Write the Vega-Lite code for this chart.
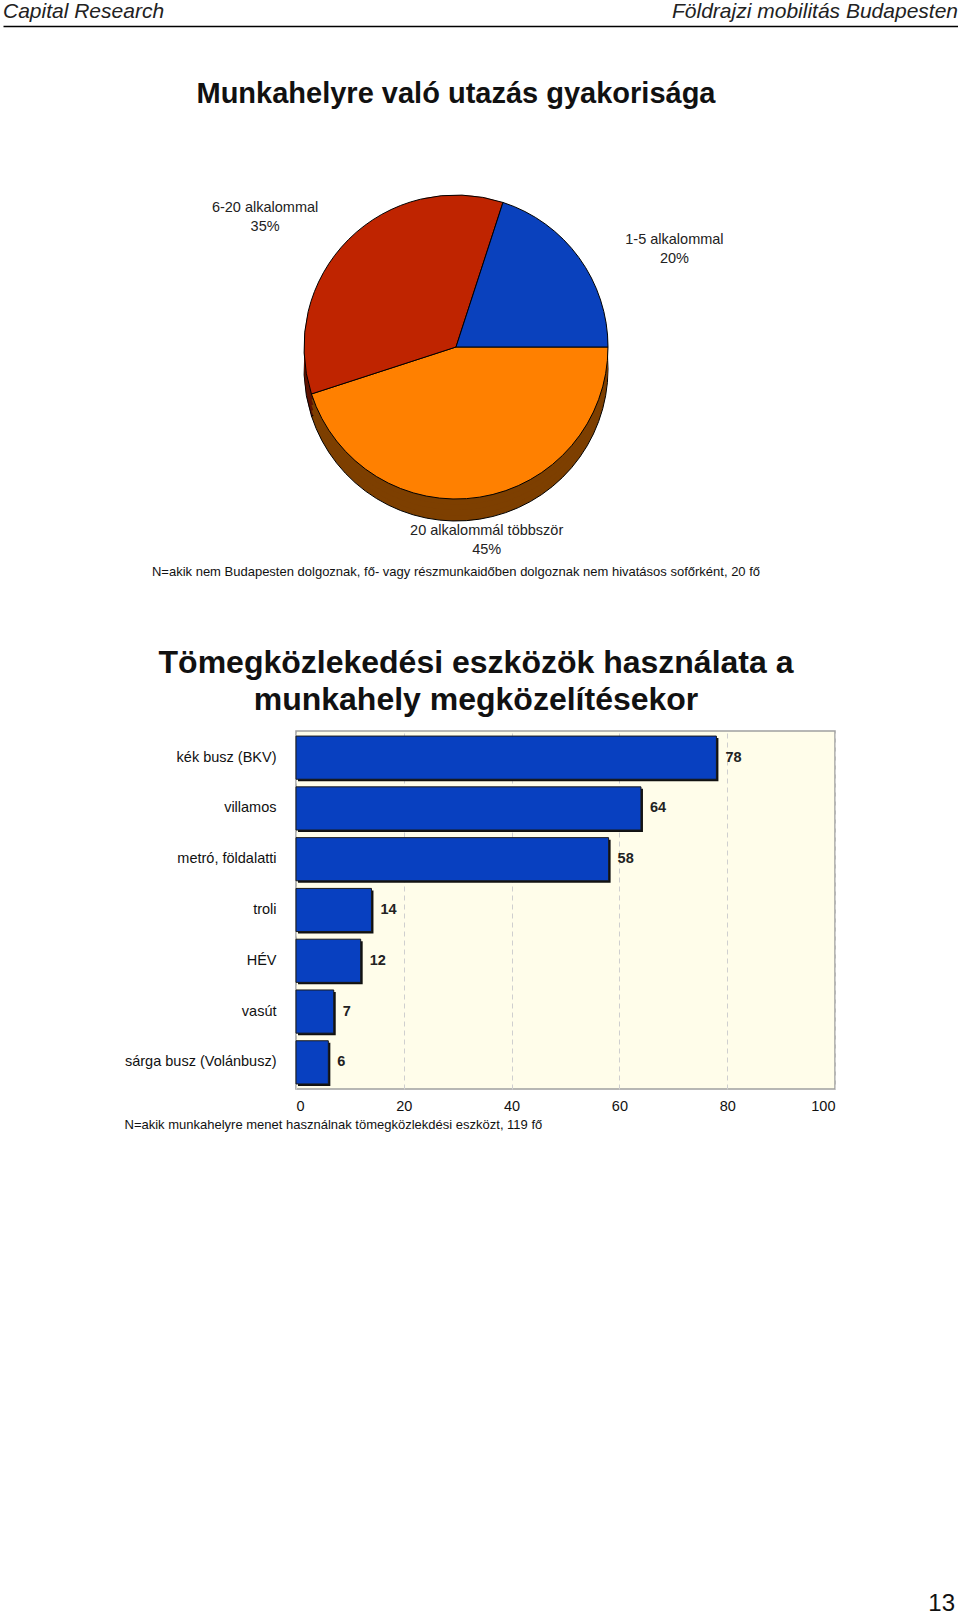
{
  "$schema": "https://vega.github.io/schema/vega-lite/v6.json",
  "background": "white",
  "padding": {"left": 3, "top": 0, "right": 0, "bottom": 0},
  "spacing": 0,
  "bounds": "flush",
  "config": {
    "view": {"stroke": null},
    "font": "Liberation Sans"
  },
  "vconcat": [
    {
      "width": 955,
      "height": 25,
      "data": {
        "values": [
          {"side": "left", "label": "Capital Research"},
          {"side": "right", "label": "Földrajzi mobilitás Budapesten"}
        ]
      },
      "encoding": {
        "x": {
          "field": "side",
          "type": "nominal",
          "scale": {"type": "point", "padding": 0, "domain": ["left", "right"]},
          "axis": {
            "title": null,
            "labels": false,
            "ticks": false,
            "grid": false,
            "domainColor": "#000",
            "domainWidth": 1.5
          }
        },
        "text": {"field": "label"}
      },
      "layer": [
        {
          "transform": [{"filter": "datum.side == 'left'"}],
          "mark": {"type": "text", "align": "left", "baseline": "middle", "dy": -2, "fontSize": 21, "fontStyle": "italic", "color": "#222"}
        },
        {
          "transform": [{"filter": "datum.side == 'right'"}],
          "mark": {"type": "text", "align": "right", "baseline": "middle", "dy": -2, "fontSize": 21, "fontStyle": "italic", "color": "#222"}
        }
      ]
    },
    {
      "width": 906,
      "height": 110,
      "data": {"values": [{}]},
      "mark": {"type": "text", "fontSize": 29, "fontWeight": "bold", "color": "#111", "baseline": "middle", "dy": 13},
      "encoding": {"text": {"value": "Munkahelyre való utazás gyakorisága"}}
    },
    {
      "width": 906,
      "height": 422,
      "data": {
        "values": [
          {"kategoria": "20 alkalommál többször", "share": 0.45},
          {"kategoria": "6-20 alkalommal", "share": 0.35},
          {"kategoria": "1-5 alkalommal", "share": 0.20}
        ]
      },
      "encoding": {
        "theta": {
          "field": "share",
          "type": "quantitative",
          "stack": true,
          "scale": {"range": [1.5708, 7.854]}
        },
        "order": {"field": "share", "sort": "descending"},
        "detail": {"field": "kategoria"}
      },
      "layer": [
        {
          "mark": {"type": "arc", "outerRadius": 152, "yOffset": 22, "stroke": "#000", "strokeWidth": 1},
          "encoding": {
            "color": {
              "condition": [
                {"test": "datum.kategoria === '6-20 alkalommal'", "value": "#5e1200"},
                {"test": "datum.kategoria === '1-5 alkalommal'", "value": "#00206b"}
              ],
              "value": "#7d3f00"
            }
          }
        },
        {
          "mark": {"type": "arc", "outerRadius": 152, "yOffset": 16.5},
          "encoding": {
            "color": {
              "condition": [
                {"test": "datum.kategoria === '6-20 alkalommal'", "value": "#5e1200"},
                {"test": "datum.kategoria === '1-5 alkalommal'", "value": "#00206b"}
              ],
              "value": "#7d3f00"
            }
          }
        },
        {
          "mark": {"type": "arc", "outerRadius": 152, "yOffset": 11},
          "encoding": {
            "color": {
              "condition": [
                {"test": "datum.kategoria === '6-20 alkalommal'", "value": "#5e1200"},
                {"test": "datum.kategoria === '1-5 alkalommal'", "value": "#00206b"}
              ],
              "value": "#7d3f00"
            }
          }
        },
        {
          "mark": {"type": "arc", "outerRadius": 152, "yOffset": 5.5},
          "encoding": {
            "color": {
              "condition": [
                {"test": "datum.kategoria === '6-20 alkalommal'", "value": "#5e1200"},
                {"test": "datum.kategoria === '1-5 alkalommal'", "value": "#00206b"}
              ],
              "value": "#7d3f00"
            }
          }
        },
        {
          "mark": {"type": "arc", "outerRadius": 152, "stroke": "#000", "strokeWidth": 1},
          "encoding": {
            "color": {
              "field": "kategoria",
              "type": "nominal",
              "scale": {
                "domain": ["20 alkalommál többször", "6-20 alkalommal", "1-5 alkalommal"],
                "range": ["#ff8000", "#bf2400", "#0a41bd"]
              },
              "legend": null
            }
          }
        },
        {
          "mark": {"type": "text", "radius": 270, "dy": 52, "fontSize": 14.5, "color": "#222"},
          "encoding": {
            "text": {"condition": {"test": "datum.share < 0.4", "field": "kategoria"}, "value": ""}
          }
        },
        {
          "mark": {"type": "text", "radius": 270, "dy": 71, "fontSize": 14.5, "color": "#222"},
          "encoding": {
            "text": {"condition": {"test": "datum.share < 0.4", "field": "share", "format": ".0%"}, "value": ""}
          }
        },
        {
          "mark": {"type": "text", "radius": 196, "dy": -9.5, "fontSize": 14.5, "color": "#222"},
          "encoding": {
            "text": {"condition": {"test": "datum.share >= 0.4", "field": "kategoria"}, "value": ""}
          }
        },
        {
          "mark": {"type": "text", "radius": 196, "dy": 9.5, "fontSize": 14.5, "color": "#222"},
          "encoding": {
            "text": {"condition": {"test": "datum.share >= 0.4", "field": "share", "format": ".0%"}, "value": ""}
          }
        }
      ]
    },
    {
      "width": 906,
      "height": 28,
      "data": {"values": [{}]},
      "mark": {"type": "text", "fontSize": 13, "color": "#111", "baseline": "middle"},
      "encoding": {"text": {"value": "N=akik nem Budapesten dolgoznak, fő- vagy részmunkaidőben dolgoznak nem hivatásos sofőrként, 20 fő"}}
    },
    {
      "width": 946,
      "height": 145,
      "data": {"values": [{}]},
      "mark": {"type": "text", "fontSize": 32, "fontWeight": "bold", "color": "#111", "baseline": "middle", "lineHeight": 37, "dy": 4},
      "encoding": {"text": {"value": ["Tömegközlekedési eszközök használata a", "munkahely megközelítésekor"]}}
    },
    {
      "spacing": 0,
      "bounds": "flush",
      "hconcat": [
        {
          "width": 293,
          "height": 358,
          "data": {"values": [{}]},
          "mark": {"type": "text"},
          "encoding": {"text": {"value": ""}}
        },
        {
          "width": 539,
          "height": 358,
          "view": {"fill": "#fffdea", "stroke": "#a0a0a0", "strokeWidth": 1.5},
          "data": {
            "values": [
              {"eszkoz": "kék busz (BKV)", "ertek": 78},
              {"eszkoz": "villamos", "ertek": 64},
              {"eszkoz": "metró, földalatti", "ertek": 58},
              {"eszkoz": "troli", "ertek": 14},
              {"eszkoz": "HÉV", "ertek": 12},
              {"eszkoz": "vasút", "ertek": 7},
              {"eszkoz": "sárga busz (Volánbusz)", "ertek": 6}
            ]
          },
          "encoding": {
            "y": {
              "field": "eszkoz",
              "type": "nominal",
              "sort": null,
              "scale": {"paddingInner": 0.15, "paddingOuter": 0.1},
              "axis": {
                "title": null,
                "ticks": false,
                "domain": false,
                "labelFontSize": 14.5,
                "labelColor": "#111",
                "labelPadding": 20
              }
            },
            "x": {
              "field": "ertek",
              "type": "quantitative",
              "scale": {"domain": [0, 100], "nice": false},
              "axis": {
                "values": [0, 20, 40, 60, 80, 100],
                "grid": true,
                "gridDash": [5, 4],
                "gridColor": "#cfcfcf",
                "ticks": false,
                "domain": false,
                "labelFontSize": 14.5,
                "labelColor": "#111",
                "labelPadding": 10,
                "title": "N=akik munkahelyre menet használnak tömegközlekdési eszközt, 119 fő",
                "titleFontSize": 13,
                "titleFontWeight": "normal",
                "titleColor": "#111",
                "titleAnchor": "start",
                "titleAlign": "left",
                "titleBaseline": "middle",
                "titleX": -172,
                "titleY": 35
              }
            }
          },
          "layer": [
            {
              "mark": {"type": "bar", "color": "#111", "xOffset": 2, "yOffset": 2}
            },
            {
              "mark": {"type": "bar", "color": "#0840c0", "stroke": "#1a1a1a", "strokeWidth": 1}
            },
            {
              "mark": {"type": "text", "align": "left", "baseline": "middle", "dx": 9, "fontSize": 14.5, "fontWeight": "bold", "color": "#222"},
              "encoding": {"text": {"field": "ertek", "type": "quantitative"}}
            }
          ]
        }
      ]
    },
    {
      "width": 952,
      "height": 880,
      "data": {"values": [{"oldal": "13"}]},
      "mark": {"type": "text", "align": "right", "baseline": "alphabetic", "fontSize": 24, "color": "#111"},
      "encoding": {
        "x": {"datum": 1, "type": "quantitative", "scale": {"domain": [0, 1]}, "axis": null},
        "y": {"datum": 0, "type": "quantitative", "scale": {"domain": [0, 1]}, "axis": null},
        "text": {"field": "oldal"}
      }
    }
  ]
}
